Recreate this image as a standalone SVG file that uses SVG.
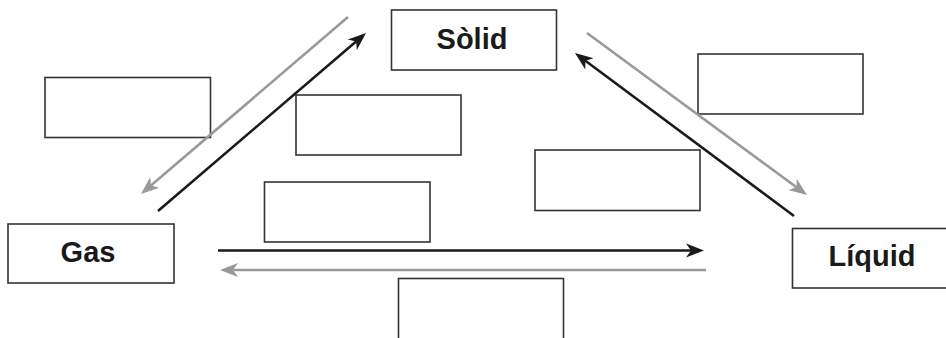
<svg xmlns="http://www.w3.org/2000/svg" width="946" height="338" viewBox="0 0 946 338">
  <style>
    .box { fill: #ffffff; stroke: #333333; stroke-width: 1.6; }
    .label { font-family: "Liberation Sans", Arial, sans-serif; font-weight: bold; font-size: 29px; fill: #1a1a1a; text-anchor: middle; }
    .fwd { stroke: #1a1a1a; stroke-width: 2.6; fill: none; marker-end: url(#headDark); }
    .back { stroke: #999999; stroke-width: 2.6; fill: none; marker-end: url(#headGray); }
  </style>
  <defs>
    <marker id="headDark" markerUnits="userSpaceOnUse" markerWidth="18" markerHeight="16" viewBox="0 0 18 16" refX="13" refY="8" orient="auto">
      <path d="M0,1 L18,8 L0,15 L5,8 z" fill="#1a1a1a"/>
    </marker>
    <marker id="headGray" markerUnits="userSpaceOnUse" markerWidth="18" markerHeight="16" viewBox="0 0 18 16" refX="13" refY="8" orient="auto">
      <path d="M0,1 L18,8 L0,15 L5,8 z" fill="#999999"/>
    </marker>
  </defs>

  <rect width="946" height="338" fill="#ffffff"/>

  <!-- blank answer boxes -->
  <g id="blanks">
    <rect id="blank-1" class="box" x="45" y="77.5" width="165.5" height="60"/>
    <rect id="blank-2" class="box" x="296" y="95" width="165" height="60"/>
    <rect id="blank-3" class="box" x="264.5" y="182" width="165.5" height="60"/>
    <rect id="blank-4" class="box" x="698" y="54" width="165" height="60"/>
    <rect id="blank-5" class="box" x="535" y="150" width="165" height="60.5"/>
    <rect id="blank-6" class="box" x="398.5" y="278.5" width="165" height="70"/>
  </g>

  <!-- state-change arrows -->
  <g id="connectors">
    <line class="back" x1="348" y1="17" x2="144.8" y2="190.8"/>
    <line class="fwd" x1="158" y1="211" x2="362.2" y2="36.3"/>
    <line class="back" x1="587" y1="33" x2="803" y2="192"/>
    <line class="fwd" x1="794" y1="216" x2="579" y2="56"/>
    <line class="fwd" x1="218" y1="250.5" x2="699" y2="250.5"/>
    <line class="back" x1="706" y1="270" x2="225" y2="270"/>
  </g>

  <!-- states of matter -->
  <g id="solid">
    <rect class="box" x="391.5" y="10" width="165" height="60"/>
    <text class="label" x="472" y="49">Sòlid</text>
  </g>
  <g id="gas">
    <rect class="box" x="8" y="224" width="166" height="59"/>
    <text class="label" x="88" y="262">Gas</text>
  </g>
  <g id="liquid">
    <rect class="box" x="792.5" y="228.5" width="160" height="59.5"/>
    <text class="label" x="872" y="266">Líquid</text>
  </g>
</svg>
